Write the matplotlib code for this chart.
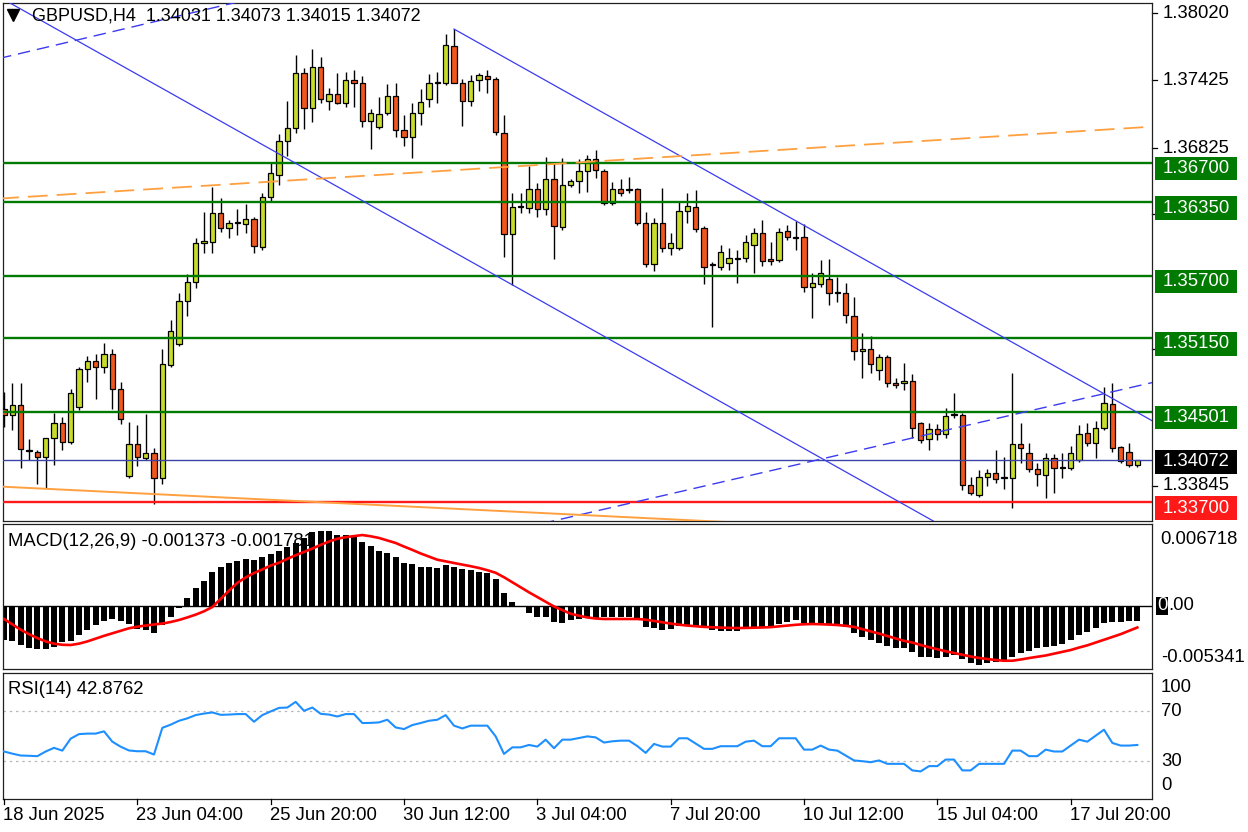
import matplotlib
matplotlib.use('Agg')
import matplotlib.pyplot as plt
from matplotlib.patches import Rectangle
from matplotlib.lines import Line2D
from matplotlib.transforms import Affine2D, blended_transform_factory
import numpy as np

W, H = 1248, 832
plt.rcParams['font.family'] = ['Liberation Sans', 'DejaVu Sans']
FS = 13.3

# ---------------- data ----------------
opens = [1.34524, 1.34471, 1.34559, 1.34153, 1.34144, 1.34100, 1.34267, 1.34400, 1.34232, 1.34541,
         1.34877, 1.34947, 1.34894, 1.35010, 1.34701, 1.33932, 1.34215, 1.34091, 1.34136, 1.33914,
         1.34912, 1.35098, 1.35477, 1.35645, 1.35990, 1.35998, 1.36255, 1.36121, 1.36166, 1.36157,
         1.36202, 1.35954, 1.36395, 1.36590, 1.36890, 1.37004, 1.37491, 1.37181, 1.37543, 1.37243,
         1.37305, 1.37226, 1.37429, 1.37403, 1.37066, 1.37013, 1.37138, 1.37287, 1.36987, 1.36925,
         1.37138, 1.37261, 1.37403, 1.37403, 1.37729, 1.37403, 1.37243, 1.37429, 1.37464, 1.37438,
         1.36961, 1.36069, 1.36307, 1.36298, 1.36467, 1.36290, 1.36555, 1.36130, 1.36502, 1.36537,
         1.36625, 1.36732, 1.36625, 1.36343, 1.36467, 1.36467, 1.36467, 1.36166, 1.35804, 1.36166,
         1.35945, 1.35945, 1.36272, 1.36307, 1.36121, 1.35804, 1.35777, 1.35813, 1.35857, 1.35857,
         1.35972, 1.36078, 1.35848, 1.35839, 1.36095, 1.36042, 1.36042, 1.35601, 1.35628, 1.35672,
         1.35548, 1.35548, 1.35345, 1.35036, 1.35054, 1.34868, 1.34983, 1.34754, 1.34754, 1.34771,
         1.34400, 1.34259, 1.34346, 1.34303, 1.34471, 1.34471, 1.33853, 1.33764, 1.33923, 1.33959,
         1.33914, 1.33914, 1.34215, 1.34136, 1.33994, 1.33941, 1.34091, 1.34002, 1.34002, 1.34073,
         1.34312, 1.34224, 1.34355, 1.34568, 1.34188, 1.34144, 1.34031]
highs = [1.34673, 1.34754, 1.34754, 1.34259, 1.34162, 1.34267, 1.34489, 1.34453, 1.34701, 1.34894,
         1.34992, 1.35010, 1.35107, 1.35054, 1.34762, 1.34408, 1.34382, 1.34480, 1.34179, 1.35054,
         1.35309, 1.35548, 1.35716, 1.36033, 1.36263, 1.36484, 1.36386, 1.36192, 1.36290, 1.36334,
         1.36219, 1.36431, 1.36704, 1.36952, 1.37243, 1.37650, 1.37534, 1.37703, 1.37632, 1.37358,
         1.37491, 1.37499, 1.37517, 1.37464, 1.37173, 1.37278, 1.37394, 1.37403, 1.37120, 1.37226,
         1.37350, 1.37482, 1.37499, 1.37835, 1.37879, 1.37438, 1.37473, 1.37491, 1.37517, 1.37455,
         1.37120, 1.36431, 1.36431, 1.36669, 1.36520, 1.36749, 1.36696, 1.36740, 1.36555, 1.36732,
         1.36767, 1.36811, 1.36643, 1.36528, 1.36555, 1.36572, 1.36475, 1.36263, 1.36210, 1.36475,
         1.36078, 1.36351, 1.36431, 1.36457, 1.36139, 1.35821, 1.35972, 1.35945, 1.35928, 1.36060,
         1.36121, 1.36192, 1.35998, 1.36121, 1.36148, 1.36183, 1.36157, 1.35725, 1.35839, 1.35849,
         1.35689, 1.35637, 1.35512, 1.35195, 1.35168, 1.35010, 1.35001, 1.34797, 1.34930, 1.34833,
         1.34408, 1.34400, 1.34391, 1.34532, 1.34665, 1.34489, 1.33923, 1.33985, 1.33994, 1.34162,
         1.34100, 1.34842, 1.34400, 1.34224, 1.34047, 1.34136, 1.34127, 1.34136, 1.34197, 1.34382,
         1.34400, 1.34417, 1.34718, 1.34754, 1.34197, 1.34224, 1.34073]
lows = [1.34364, 1.34338, 1.34002, 1.34073, 1.33862, 1.33826, 1.34029, 1.34162, 1.34214, 1.34515,
        1.34762, 1.34612, 1.34842, 1.34524, 1.34391, 1.33914, 1.34020, 1.34073, 1.33685, 1.33862,
        1.34894, 1.35080, 1.35345, 1.35592, 1.35902, 1.35902, 1.36086, 1.36033, 1.36060, 1.36078,
        1.35902, 1.35928, 1.36360, 1.36502, 1.36758, 1.36961, 1.36996, 1.37057, 1.37226, 1.37164,
        1.37217, 1.37190, 1.37190, 1.37013, 1.36820, 1.36996, 1.37120, 1.36925, 1.36846, 1.36740,
        1.37031, 1.37190, 1.37226, 1.37385, 1.37403, 1.37022, 1.37199, 1.37331, 1.37314, 1.36943,
        1.35866, 1.35619, 1.36255, 1.36255, 1.36219, 1.36237, 1.35849, 1.36104, 1.36484, 1.36431,
        1.36439, 1.36563, 1.36325, 1.36325, 1.36404, 1.36431, 1.36148, 1.35777, 1.35742, 1.35910,
        1.35884, 1.35928, 1.36166, 1.36086, 1.35628, 1.35247, 1.35751, 1.35751, 1.35637, 1.35821,
        1.35725, 1.35786, 1.35795, 1.35821, 1.36016, 1.35928, 1.35556, 1.35327, 1.35601, 1.35442,
        1.35468, 1.35283, 1.34956, 1.34797, 1.34842, 1.34780, 1.34718, 1.34709, 1.34691, 1.34267,
        1.34224, 1.34162, 1.34250, 1.34267, 1.34444, 1.33808, 1.33764, 1.33746, 1.33844, 1.33871,
        1.33818, 1.33649, 1.34047, 1.33967, 1.33844, 1.33737, 1.33782, 1.33914, 1.33985, 1.34055,
        1.34197, 1.34091, 1.34338, 1.34144, 1.34047, 1.34011, 1.34015]
closes = [1.34471, 1.34559, 1.34171, 1.34162, 1.34100, 1.34267, 1.34400, 1.34232, 1.34665, 1.34877,
          1.34947, 1.34894, 1.35010, 1.34701, 1.34436, 1.34215, 1.34100, 1.34136, 1.33914, 1.34921,
          1.35212, 1.35477, 1.35645, 1.35990, 1.36007, 1.36255, 1.36121, 1.36166, 1.36174, 1.36202,
          1.35963, 1.36395, 1.36608, 1.36890, 1.37004, 1.37491, 1.37181, 1.37543, 1.37261, 1.37305,
          1.37226, 1.37429, 1.37403, 1.37066, 1.37138, 1.37129, 1.37287, 1.36987, 1.36925, 1.37138,
          1.37234, 1.37403, 1.37412, 1.37738, 1.37403, 1.37243, 1.37420, 1.37473, 1.37438, 1.36969,
          1.36069, 1.36307, 1.36316, 1.36467, 1.36290, 1.36555, 1.36139, 1.36502, 1.36537, 1.36625,
          1.36732, 1.36634, 1.36343, 1.36467, 1.36431, 1.36457, 1.36166, 1.35804, 1.36166, 1.35945,
          1.35990, 1.36272, 1.36316, 1.36113, 1.35777, 1.35795, 1.35910, 1.35857, 1.35848, 1.35998,
          1.36078, 1.35830, 1.35830, 1.36086, 1.36042, 1.36033, 1.35601, 1.35637, 1.35725, 1.35548,
          1.35557, 1.35354, 1.35036, 1.35054, 1.34921, 1.34983, 1.34754, 1.34736, 1.34771, 1.34355,
          1.34250, 1.34346, 1.34303, 1.34462, 1.34480, 1.33853, 1.33782, 1.33923, 1.33959, 1.33906,
          1.33923, 1.34215, 1.34179, 1.33994, 1.33950, 1.34091, 1.34002, 1.34011, 1.34136, 1.34303,
          1.34224, 1.34355, 1.34577, 1.34179, 1.34064, 1.34029, 1.34072]

macd_hist = [-0.00307, -0.00316, -0.00352, -0.00379, -0.00388, -0.00388, -0.00370, -0.00325, -0.00316, -0.00263,
             -0.00218, -0.00173, -0.00137, -0.00119, -0.00137, -0.00164, -0.00209, -0.00218, -0.00245, -0.00173,
             -0.00101, -0.00021, 0.00069, 0.00159, 0.00221, 0.00302, 0.00347, 0.00383, 0.00401, 0.00418,
             0.00409, 0.00436, 0.00463, 0.00490, 0.00526, 0.00562, 0.00607, 0.00660, 0.00672, 0.00665,
             0.00633, 0.00633, 0.00625, 0.00571, 0.00535, 0.00490, 0.00472, 0.00436, 0.00383, 0.00374,
             0.00347, 0.00347, 0.00338, 0.00365, 0.00347, 0.00329, 0.00320, 0.00302, 0.00293, 0.00239,
             0.00114, 0.00033, -0.00012, -0.00065, -0.00101, -0.00101, -0.00146, -0.00155, -0.00128, -0.00119,
             -0.00110, -0.00110, -0.00101, -0.00101, -0.00101, -0.00101, -0.00128, -0.00191, -0.00200, -0.00218,
             -0.00209, -0.00182, -0.00182, -0.00191, -0.00200, -0.00218, -0.00227, -0.00227, -0.00227, -0.00209,
             -0.00200, -0.00191, -0.00182, -0.00164, -0.00146, -0.00128, -0.00155, -0.00164, -0.00164, -0.00164,
             -0.00173, -0.00191, -0.00245, -0.00280, -0.00307, -0.00334, -0.00361, -0.00379, -0.00379, -0.00415,
             -0.00460, -0.00460, -0.00469, -0.00460, -0.00442, -0.00478, -0.00513, -0.00534, -0.00513, -0.00504,
             -0.00487, -0.00460, -0.00424, -0.00406, -0.00379, -0.00370, -0.00361, -0.00343, -0.00307, -0.00263,
             -0.00236, -0.00200, -0.00155, -0.00150, -0.00145, -0.00140, -0.001373]
macd_signal = [-0.00119, -0.00167, -0.00215, -0.00255, -0.00290, -0.00320, -0.00340, -0.00350, -0.00352, -0.00340,
               -0.00320, -0.00295, -0.00270, -0.00247, -0.00225, -0.00202, -0.00188, -0.00178, -0.00168, -0.00160,
               -0.00146, -0.00128, -0.00105, -0.00080, -0.00050, -0.00012, 0.00062, 0.00135, 0.00205, 0.00253,
               0.00293, 0.00325, 0.00360, 0.00385, 0.00420, 0.00452, 0.00482, 0.00512, 0.00545, 0.00575,
               0.00600, 0.00614, 0.00624, 0.00633, 0.00622, 0.00607, 0.00585, 0.00562, 0.00530, 0.00500,
               0.00468, 0.00440, 0.00412, 0.00397, 0.00383, 0.00368, 0.00354, 0.00338, 0.00318, 0.00295,
               0.00255, 0.00210, 0.00165, 0.00120, 0.00078, 0.00035, -0.00007, -0.00040, -0.00072, -0.00090,
               -0.00105, -0.00115, -0.00119, -0.00119, -0.00119, -0.00119, -0.00119, -0.00125, -0.00137, -0.00148,
               -0.00160, -0.00170, -0.00178, -0.00184, -0.00190, -0.00193, -0.00196, -0.00199, -0.00200, -0.00199,
               -0.00197, -0.00195, -0.00192, -0.00185, -0.00178, -0.00171, -0.00166, -0.00164, -0.00166, -0.00169,
               -0.00173, -0.00180, -0.00190, -0.00210, -0.00230, -0.00250, -0.00272, -0.00295, -0.00315, -0.00330,
               -0.00352, -0.00372, -0.00390, -0.00408, -0.00424, -0.00440, -0.00455, -0.00468, -0.00478, -0.00487,
               -0.00493, -0.00493, -0.00482, -0.00469, -0.00458, -0.00446, -0.00430, -0.00415, -0.00397, -0.00375,
               -0.00355, -0.00330, -0.00305, -0.00280, -0.00255, -0.00225, -0.00195]
rsi = [37.7, 36.0, 34.5, 34.3, 34.0, 37.7, 40.6, 38.4, 47.9, 51.5,
       51.9, 51.9, 53.7, 45.5, 41.5, 38.5, 37.9, 37.9, 35.3, 56.5,
       59.0, 62.1, 64.0, 66.6, 67.8, 68.7, 66.8, 67.0, 67.4, 67.4,
       61.3, 66.6, 69.5, 72.3, 72.6, 77.1, 70.0, 72.6, 67.6, 67.0,
       65.5, 67.4, 67.4, 60.3, 60.4, 60.8, 62.9, 56.8, 55.5, 58.7,
       60.3, 62.1, 62.9, 66.6, 58.2, 56.0, 58.2, 58.2, 58.2, 49.7,
       35.8, 41.0, 41.0, 42.9, 41.6, 47.1, 40.3, 47.1, 47.1, 48.4,
       49.7, 48.9, 44.8, 45.8, 46.3, 46.3, 42.0, 36.6, 43.7, 41.6,
       41.6, 48.2, 48.2, 44.0, 39.8, 39.8, 41.9, 41.9, 41.9, 45.5,
       46.3, 41.9, 41.9, 48.2, 48.2, 48.2, 39.2, 39.2, 42.4, 39.2,
       38.4, 34.5, 30.6, 30.0, 29.2, 30.6, 27.9, 27.9, 27.9, 22.7,
       21.9, 26.1, 26.1, 31.3, 31.3, 22.7, 22.7, 27.9, 27.9, 27.9,
       27.9, 38.4, 38.4, 34.0, 34.0, 39.2, 37.7, 37.7, 42.4, 47.1,
       45.5, 50.3, 55.0, 44.5, 42.4, 42.4, 42.8762]

green_levels = [1.36700, 1.36350, 1.35700, 1.35150, 1.34501]
green_labels = ['1.36700', '1.36350', '1.35700', '1.35150', '1.34501']
red_level, red_label = 1.33700, '1.33700'
bid_level, bid_label = 1.34072, '1.34072'
price_ticks = [1.38020, 1.37425, 1.36825, 1.36250, 1.35055, 1.33845]
price_tick_labels = ['1.38020', '1.37425', '1.36825', '1.36250', '1.35055', '1.33845']
time_tick_bars = [0, 16, 32, 48, 64, 80, 96, 112, 128]
time_tick_labels = ['18 Jun 2025', '23 Jun 04:00', '25 Jun 20:00', '30 Jun 12:00', '3 Jul 04:00',
                    '7 Jul 20:00', '10 Jul 12:00', '15 Jul 04:00', '17 Jul 20:00']

# trend lines: (bar index, price) anchor pairs
blue_solid_1 = [(-1.0, 1.38180), (112.0, 1.33515)]
blue_solid_2 = [(54.0, 1.37879), (138.0, 1.34411)]
blue_dash_1 = [(-1.0, 1.37612), (40.0, 1.38326)]
blue_dash_2 = [(60.0, 1.33435), (138.0, 1.34761)]
orange_dash = [(-1.0, 1.36380), (138.0, 1.37018)]
orange_solid = [(-1.0, 1.33841), (100.0, 1.33478)]

# ---------------- figure ----------------
fig = plt.figure(figsize=(W / 100, H / 100), dpi=100)
fig.patch.set_facecolor('white')
T_px = Affine2D().scale(1.0 / W, -1.0 / H).translate(0, 1) + fig.transFigure


def px_axes(l, t, r, b):
    a = fig.add_axes([l / W, 1 - b / H, (r - l) / W, (b - t) / H])
    a.set_xticks([])
    a.set_yticks([])
    for s in a.spines.values():
        s.set_linewidth(0.9)
        s.set_color('#202020')
    a.set_facecolor('white')
    return a


ax = px_axes(3, 3, 1152, 521)
axm = px_axes(3, 524, 1152, 669)
axr = px_axes(3, 673, 1152, 799)
XL = (-0.12, 137.76)
for a in (ax, axm, axr):
    a.set_xlim(*XL)

# ---------- price panel ----------
o = np.array(opens); h = np.array(highs); l = np.array(lows); c = np.array(closes)
x = np.arange(len(o))
bull = c >= o
cols = np.where(bull, '#c8dc2c', '#f0561e')
ax.vlines(x, l, h, color='black', lw=1.0, zorder=3)
ax.bar(x, np.maximum(np.abs(c - o), 0.00001), bottom=np.minimum(o, c), width=0.62,
       color=cols, edgecolor='black', linewidth=0.9, zorder=4)
ax.set_ylim(1.33535, 1.38109)

for lv in green_levels:
    ax.axhline(lv, color='#007a00', lw=1.7, zorder=5)
ax.axhline(red_level, color='#ff1a1a', lw=1.7, zorder=5)
ax.axhline(bid_level, color='#3a44a8', lw=1.0, zorder=5)


def tline(pts, **kw):
    (x0, y0), (x1, y1) = pts
    ax.plot([x0, x1], [y0, y1], zorder=6, **kw)


tline(blue_solid_1, color='#3b3bf0', lw=0.9)
tline(blue_solid_2, color='#3b3bf0', lw=0.9)
tline(blue_dash_1, color='#3b3bf0', lw=1.0, dashes=(9, 5))
tline(blue_dash_2, color='#3b3bf0', lw=1.0, dashes=(9, 5))
tline(orange_dash, color='#ffa040', lw=1.3, dashes=(11, 5))
tline(orange_solid, color='#ffa040', lw=1.4)

# price axis
bt = blended_transform_factory(T_px, ax.transData)
for tv, tl in zip(price_ticks, price_tick_labels):
    ax.add_line(Line2D([1152, 1157], [tv, tv], transform=bt, color='black', lw=0.9, clip_on=False))
    ax.text(1163, tv, tl, transform=bt, fontsize=FS, va='center', ha='left', clip_on=False, zorder=7)

BOX_H = 23.5 * 0.0000883
for lv, lb in zip(green_levels, green_labels):
    fig.add_artist(Rectangle((1155, lv + 6 * 0.0000883 - BOX_H), 82, BOX_H, transform=bt,
                             facecolor='#007a00', edgecolor='none', zorder=10))
    fig.text(1163, lv - 5.8 * 0.0000883, lb, transform=bt, fontsize=FS, color='white',
             va='center', ha='left', zorder=11)
fig.add_artist(Rectangle((1155, red_level + 6 * 0.0000883 - BOX_H), 82, BOX_H, transform=bt,
                         facecolor='#ff1a1a', edgecolor='none', zorder=10))
fig.text(1163, red_level - 5.8 * 0.0000883, red_label, transform=bt, fontsize=FS, color='white',
         va='center', ha='left', zorder=11)
fig.add_artist(Rectangle((1155, bid_level + 10 * 0.0000883 - BOX_H), 82, BOX_H, transform=bt,
                         facecolor='black', edgecolor='none', zorder=10))
fig.text(1163, bid_level - 1.5 * 0.0000883, bid_label, transform=bt, fontsize=FS, color='white',
         va='center', ha='left', zorder=11)

# title
fig.add_artist(Line2D([13], [15], marker='v', ms=8, color='black', transform=T_px, zorder=12))
fig.text(32, 16, 'GBPUSD,H4  %.5f %.5f %.5f %.5f' % (opens[-1], highs[-1], lows[-1], closes[-1]),
         transform=T_px, fontsize=13.0, va='center', ha='left', zorder=12)

# ---------- MACD panel ----------
axm.set_ylim(-0.00567, 0.00732)
axm.text(8, 542, 'MACD(12,26,9) %.6f -0.001781' % macd_hist[-1], transform=T_px,
         fontsize=FS, va='center', ha='left', zorder=1)
axm.axhline(0, color='black', lw=1.0, zorder=1.5)
axm.bar(x, macd_hist, width=0.72, color='black', edgecolor='none', zorder=2)
axm.plot(x, macd_signal, color='#ff0000', lw=1.9, zorder=3)
fig.text(1160, 540, '0.006718', transform=T_px, fontsize=FS, va='center', ha='left')
fig.text(1157, 606, '0', transform=T_px, fontsize=FS, va='center', ha='left', color='white',
         bbox=dict(boxstyle='square,pad=0.05', facecolor='black', edgecolor='none'))
fig.text(1168, 606, '.00', transform=T_px, fontsize=FS, va='center', ha='left')
fig.text(1161, 657, '-0.005341', transform=T_px, fontsize=FS, va='center', ha='left')

# ---------- RSI panel ----------
axr.set_ylim(0, 100)
for lv in (70, 30):
    axr.axhline(lv, color='#b8b8b8', lw=0.9, dashes=(2, 3), zorder=1)
axr.plot(x, rsi, color='#1e8fff', lw=1.5, zorder=3)
axr.text(8, 689, 'RSI(14) %.4f' % rsi[-1], transform=T_px, fontsize=FS, va='center', ha='left')
for lb, yy in (('100', 688), ('70', 712), ('30', 762), ('0', 786)):
    fig.text(1161, yy, lb, transform=T_px, fontsize=FS, va='center', ha='left')

# time axis
tb = blended_transform_factory(axr.transData, T_px)
for b, lb in zip(time_tick_bars, time_tick_labels):
    fig.add_artist(Line2D([b, b], [799, 804], transform=tb, color='black', lw=0.9))
    fig.text(b - 0.1, 815, lb, transform=tb, fontsize=FS, va='center', ha='left')

fig.savefig('out.png', dpi=100, facecolor='white')
